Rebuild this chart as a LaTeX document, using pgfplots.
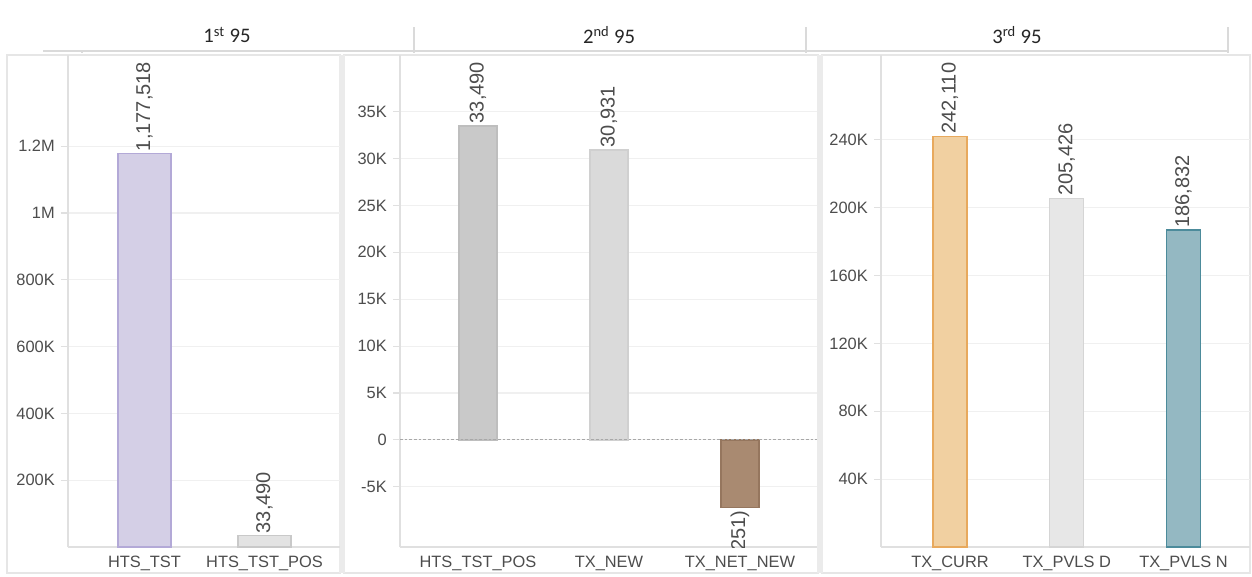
\documentclass[border=0pt]{standalone}
\usepackage{pgfplots}
\pgfplotsset{compat=1.18}
\usepackage{fontspec}
\setmainfont{Liberation Sans}
\newfontfamily\headfont{Carlito}

\definecolor{txt}{HTML}{4D4D4D}
\definecolor{gridc}{HTML}{F0F0F0}
\definecolor{axisc}{HTML}{E0E0E0}
\definecolor{framec}{HTML}{E6E6E6}
\definecolor{sepc}{HTML}{EBEBEB}
\definecolor{headc}{HTML}{DADADA}
\definecolor{zeroc}{HTML}{A8A8A8}
% bar colours
\definecolor{purpF}{HTML}{D4CFE6}\definecolor{purpD}{HTML}{B3A9D7}
\definecolor{lgF}{HTML}{E3E3E3}\definecolor{lgD}{HTML}{C9C9C9}
\definecolor{mgF}{HTML}{C9C9C9}\definecolor{mgD}{HTML}{BEBEBE}
\definecolor{ngF}{HTML}{DADADA}\definecolor{ngD}{HTML}{D0D0D0}
\definecolor{brF}{HTML}{A98A71}\definecolor{brD}{HTML}{95765E}
\definecolor{orF}{HTML}{F1D0A1}\definecolor{orD}{HTML}{E8A95D}
\definecolor{pgF}{HTML}{E7E7E7}\definecolor{pgD}{HTML}{D5D5D5}
\definecolor{tlF}{HTML}{94B8C2}\definecolor{tlD}{HTML}{4C8B9B}

\pgfplotsset{
  panel/.style={
    scale only axis, anchor=south west, height=369pt,
    enlargelimits=false, clip marker paths=true,
    axis x line*=bottom, axis y line*=left,
    axis line style={draw=axisc, line width=1pt},
    ymajorgrids, grid style={draw=gridc, line width=0.8pt},
    major tick length=5.25pt, tick align=outside,
    xtick style={draw=none},
    ytick style={draw=axisc, line width=0.8pt},
    scaled y ticks=false,
    ticklabel style={font=\fontsize{12.3}{14}\selectfont, text=txt},
    yticklabel style={inner sep=0pt, xshift=-4.5pt},
    xticklabel style={inner sep=0pt, yshift=-1.5pt},
    ybar, bar shift=0pt,
    /pgf/number format/.cd, fixed, precision=0, 1000 sep={,}, assume math mode=true,
    /pgfplots/.cd,
    nodes near coords,
    nodes near coords style={rotate=90, anchor=west, inner sep=1.5pt,
      font=\fontsize{15}{17}\selectfont, text=txt},
  },
  bars/.style 2 args={fill=#1, draw=#2, line width=1pt},
}

\begin{document}
\begin{tikzpicture}[x=0.75pt, y=0.75pt]
\useasboundingbox (0,0) rectangle (1252,576);

% panel frames and separators
\fill[white] (0,0) rectangle (1252,576);
\draw[framec, line width=1.5pt] (7,3) rectangle (340,521);
\draw[framec, line width=1.5pt] (344,3) rectangle (818,521);
\draw[framec, line width=1.5pt] (822,3) rectangle (1250,521);
\fill[sepc] (339,3) rectangle (345,521);
\fill[sepc] (817,3) rectangle (823,521);

% column headers
\draw[headc, line width=1.2pt] (43,525) -- (1228,525);
\draw[headc, line width=1.2pt] (82,523) -- (82,526);
\foreach \xx in {414,806,1228}
  \draw[headc, line width=1.2pt] (\xx,523) -- (\xx,549);
\node[font=\headfont\fontsize{15.5}{18}\selectfont, text=black!85] at (227,541) {1\textsuperscript{st} 95};
\node[font=\headfont\fontsize{15.5}{18}\selectfont, text=black!85] at (609,541) {2\textsuperscript{nd} 95};
\node[font=\headfont\fontsize{15.5}{18}\selectfont, text=black!85] at (1017,541) {3\textsuperscript{rd} 95};

% ---- 1st 95 ----
\begin{axis}[panel, at={(51pt,21.75pt)}, width=204pt,
  xmin=-0.6375, xmax=1.629, ymin=0, ymax=1473000,
  xtick={0,1},
  xticklabels={HTS\_TST, HTS\_TST\_POS},
  ytick={200000,400000,600000,800000,1000000,1200000},
  yticklabels={200K,400K,600K,800K,1M,1.2M},
  bar width=39.75pt]
\addplot[bars={purpF}{purpD}] coordinates {(0,1177518)};
\addplot[bars={lgF}{lgD}] coordinates {(1,33490)};
\end{axis}

% ---- 2nd 95 ----
\begin{axis}[panel, at={(300pt,21.75pt)}, width=312.75pt,
  xmin=-0.595, xmax=2.588, ymin=-11430, ymax=41050,
  xtick={0,1,2},
  xticklabels={HTS\_TST\_POS, TX\_NEW, TX\_NET\_NEW},
  ytick={-5000,0,5000,10000,15000,20000,25000,30000,35000},
  yticklabels={-5K,0,5K,10K,15K,20K,25K,30K,35K},
  bar width=28.5pt]
\addplot[bars={mgF}{mgD}] coordinates {(0,33490)};
\addplot[bars={ngF}{ngD}] coordinates {(1,30931)};
\addplot[bars={brF}{brD}, point meta=explicit,
  nodes near coords={(\pgfmathprintnumber{\pgfplotspointmeta})},
  nodes near coords style={anchor=east}]
  coordinates {(2,-7251) [7251]};
\draw[zeroc, line width=0.8pt, dash pattern=on 2pt off 1.5pt]
  (axis cs:-0.595,0) -- (axis cs:2.588,0);
\end{axis}

% ---- 3rd 95 ----
\begin{axis}[panel, at={(660.75pt,21.75pt)}, width=276.75pt,
  xmin=-0.591, xmax=2.57, ymin=0, ymax=290000,
  xtick={0,1,2},
  xticklabels={TX\_CURR, TX\_PVLS D, TX\_PVLS N},
  ytick={40000,80000,120000,160000,200000,240000},
  yticklabels={40K,80K,120K,160K,200K,240K},
  bar width=25.5pt]
\addplot[bars={orF}{orD}] coordinates {(0,242110)};
\addplot[bars={pgF}{pgD}] coordinates {(1,205426)};
\addplot[bars={tlF}{tlD}] coordinates {(2,186832)};
\end{axis}
\end{tikzpicture}
\end{document}
